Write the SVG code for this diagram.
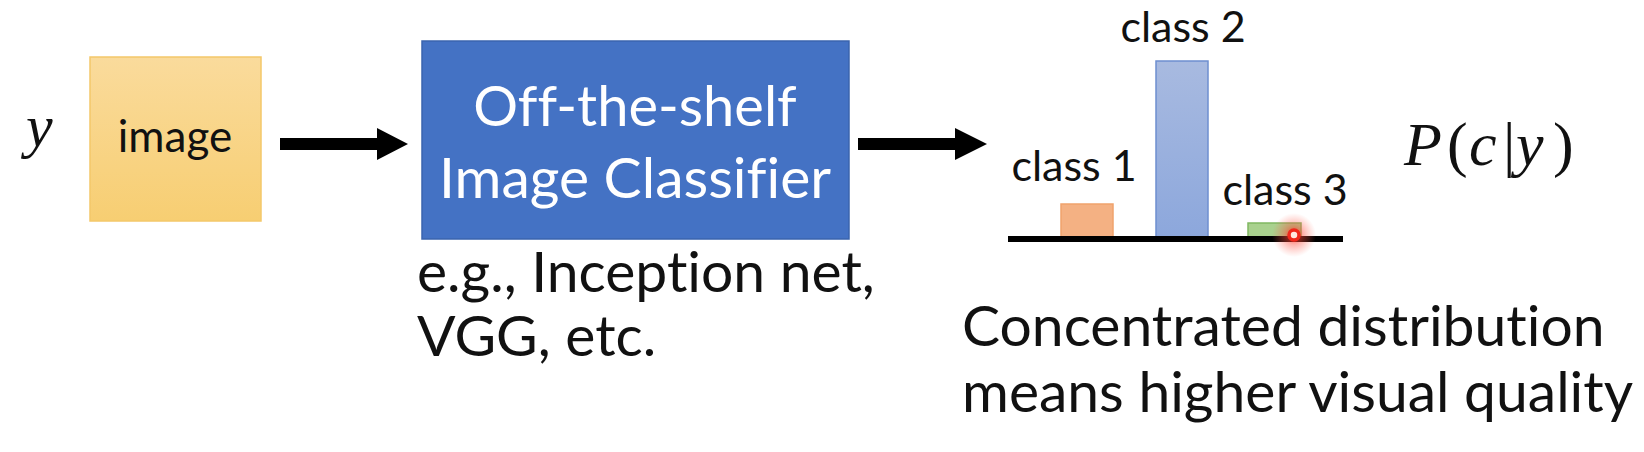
<svg xmlns="http://www.w3.org/2000/svg" width="1644" height="452" viewBox="0 0 1644 452">
  <defs>
    <linearGradient id="gYellow" x1="0" y1="0" x2="0" y2="1">
      <stop offset="0" stop-color="#FADB9C"/>
      <stop offset="1" stop-color="#F7CE72"/>
    </linearGradient>
    <linearGradient id="gBlueBar" x1="0" y1="0" x2="0" y2="1">
      <stop offset="0" stop-color="#A8BAE0"/>
      <stop offset="1" stop-color="#8CA7DC"/>
    </linearGradient>
    <radialGradient id="gGlow">
      <stop offset="0" stop-color="#FF2A1A" stop-opacity="0.85"/>
      <stop offset="0.45" stop-color="#FF4A3A" stop-opacity="0.4"/>
      <stop offset="1" stop-color="#FF6A5A" stop-opacity="0"/>
    </radialGradient>
    <style>
      .sans { font-family: Lato, "Liberation Sans", sans-serif; fill: #111111; font-variant-ligatures: none; }
      .white { fill: #FFFFFF; }
      .math { font-family: "Liberation Serif", "DejaVu Serif", serif; fill: #111111; }
      .it { font-style: italic; }
      .arrow { fill: #000000; }
    </style>
  </defs>
  <rect width="1644" height="452" fill="#FFFFFF"/>

  <g id="label-y">
    <text class="math it" x="26" y="146" font-size="60">y</text>
  </g>

  <g id="node-image">
    <rect x="90" y="57" width="171" height="164" fill="url(#gYellow)" stroke="#F4C86A" stroke-width="1.5"/>
    <text class="sans" x="175" y="152" font-size="44" text-anchor="middle">image</text>
  </g>

  <g id="node-classifier">
    <rect x="422" y="41" width="427" height="198" fill="#4472C4" stroke="#3A64AE" stroke-width="1.5"/>
    <text class="sans white" x="635" y="126" font-size="56" text-anchor="middle">Off-the-shelf</text>
    <text class="sans white" x="635" y="198" font-size="57" text-anchor="middle">Image Classifier</text>
  </g>

  <g id="note-examples">
    <text class="sans" x="417" y="292" font-size="57">e.g., Inception net,</text>
    <text class="sans" x="417" y="356" font-size="57">VGG, etc.</text>
  </g>

  <g id="node-distribution">
    <rect x="1061" y="204" width="52" height="35" fill="#F4B183" stroke="#F0A36C" stroke-width="1.5"/>
    <rect x="1156" y="61" width="52" height="178" fill="url(#gBlueBar)" stroke="#6E8FD0" stroke-width="1.5"/>
    <rect x="1248" y="223" width="53" height="16" fill="#A9D18E" stroke="#80B862" stroke-width="1.5"/>
    <line x1="1008" y1="239" x2="1343" y2="239" stroke="#000000" stroke-width="6"/>
    <text class="sans" x="1183" y="42" font-size="43" text-anchor="middle">class 2</text>
    <text class="sans" x="1074" y="181" font-size="43" text-anchor="middle">class 1</text>
    <text class="sans" x="1285" y="205" font-size="43" text-anchor="middle">class 3</text>
    <circle cx="1294" cy="235" r="22" fill="url(#gGlow)"/>
    <circle cx="1294" cy="235" r="5" fill="#FFE8E0" stroke="#F0281C" stroke-width="3.5"/>
  </g>

  <g id="label-pcy">
    <text class="math" y="165" font-size="62"><tspan class="it" x="1404">P</tspan><tspan x="1447">(</tspan><tspan class="it" x="1469">c</tspan><tspan x="1503">|</tspan><tspan class="it" x="1516">y</tspan><tspan x="1553">)</tspan></text>
  </g>

  <g id="note-quality">
    <text class="sans" x="962" y="346" font-size="57">Concentrated distribution</text>
    <text class="sans" x="962" y="412" font-size="57">means higher visual quality</text>
  </g>

  <g id="connectors">
    <polygon class="arrow" points="280,138 377,138 377,128 408,144 377,160 377,150 280,150"/>
    <polygon class="arrow" points="858,138 955,138 955,128 987,144 955,160 955,150 858,150"/>
  </g>
</svg>
